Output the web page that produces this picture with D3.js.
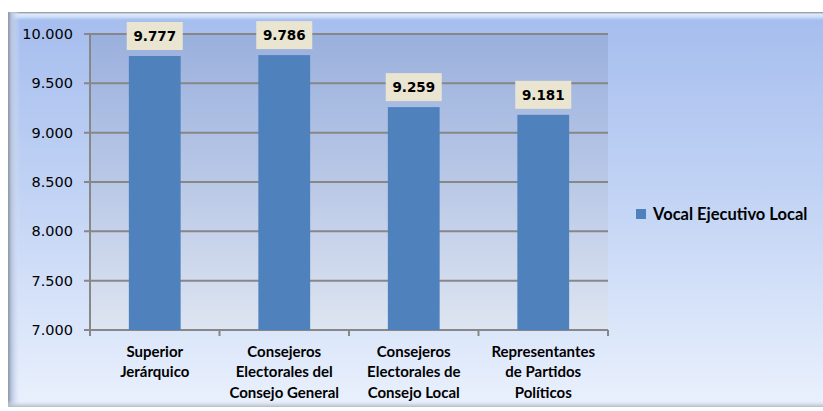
<!DOCTYPE html>
<html>
<head>
<meta charset="utf-8">
<script src="https://cdn.jsdelivr.net/npm/d3@7"></script>
<style>
  body { margin: 0; background: #ffffff; }
  svg { display: block; }
</style>
</head>
<body>
<div id="chart"></div>
<script>
// data
const categories = [
    ["Superior", "Jerárquico"],
    ["Consejeros", "Electorales del", "Consejo General"],
    ["Consejeros", "Electorales de", "Consejo Local"],
    ["Representantes", "de Partidos", "Políticos"]
];
const values = [9777, 9786, 9259, 9181];
const seriesName = "Vocal Ejecutivo Local";
const yTicks = [7000, 7500, 8000, 8500, 9000, 9500, 10000];

let width = 823,
    height = 411,
    plot = {left: 90, right: 608, top: 34, bottom: 330},
    barColor = "#4f81bd",
    gridColor = "#878787";

const fmt = d3.formatLocale({decimal: ",", thousands: ".", grouping: [3], currency: ["", ""]}).format(",.0f");

const svg = d3.select("#chart").append("svg")
    .attr("width", width)
    .attr("height", height);

const defs = svg.append("defs");

function vGrad(id, stops) {
    const g = defs.append("linearGradient").attr("id", id)
        .attr("x1", 0).attr("y1", 0).attr("x2", 0).attr("y2", 1);
    stops.forEach(s => g.append("stop").attr("offset", s[0]).attr("stop-color", s[1]));
}
function hGrad(id, stops) {
    const g = defs.append("linearGradient").attr("id", id)
        .attr("x1", 0).attr("y1", 0).attr("x2", 1).attr("y2", 0);
    stops.forEach(s => g.append("stop").attr("offset", s[0]).attr("stop-color", s[1]));
}

vGrad("frameFill", [[0, "#a5bdee"], [0.5, "#c4d5f5"], [1, "#eaf1fd"]]);
vGrad("plotFill", [[0, "#9ab0dd"], [0.5, "#b9c8e6"], [1, "#dee5f1"]]);
hGrad("leftBevel", [[0, "#8e96a4"], [0.3, "#b8c6df"], [1, "rgba(220,230,250,0)"]]);
vGrad("topBevel", [[0, "#8a8f98"], [0.25, "#dfeafc"], [0.6, "#c9dbf8"], [1, "rgba(170,195,240,0)"]]);
vGrad("bottomBevel", [[0, "rgba(230,236,246,0)"], [1, "#b4bcc8"]]);

// frame
svg.append("rect")
    .attr("x", 8).attr("y", 12)
    .attr("width", width - 8).attr("height", 395)
    .attr("fill", "url(#frameFill)");
svg.append("rect")
    .attr("x", 8).attr("y", 12)
    .attr("width", width - 8).attr("height", 9)
    .attr("fill", "url(#topBevel)");
svg.append("rect")
    .attr("x", 8).attr("y", 12)
    .attr("width", 12).attr("height", 395)
    .attr("fill", "url(#leftBevel)");
svg.append("rect")
    .attr("x", 8).attr("y", 400)
    .attr("width", width - 8).attr("height", 7)
    .attr("fill", "url(#bottomBevel)");

// scales
const x = d3.scaleBand()
    .domain(d3.range(categories.length))
    .range([plot.left, plot.right])
    .paddingInner(0.6)
    .paddingOuter(0.3);

const y = d3.scaleLinear()
    .domain([7000, 10000])
    .range([plot.bottom, plot.top]);

// plot area
svg.append("rect")
    .attr("x", plot.left).attr("y", plot.top)
    .attr("width", plot.right - plot.left).attr("height", plot.bottom - plot.top)
    .attr("fill", "url(#plotFill)");

// gridlines
svg.append("g")
    .selectAll("line")
    .data(yTicks)
    .enter().append("line")
    .attr("x1", plot.left - 6).attr("x2", plot.right)
    .attr("y1", d => y(d)).attr("y2", d => y(d))
    .attr("stroke", gridColor)
    .attr("stroke-width", 2);

// y axis line
svg.append("line")
    .attr("x1", plot.left).attr("x2", plot.left)
    .attr("y1", plot.top).attr("y2", plot.bottom)
    .attr("stroke", gridColor).attr("stroke-width", 2);

// x tick marks at band boundaries
const step = x.step();
const xBounds = d3.range(categories.length + 1).map(i => plot.left + i * step);
svg.append("g")
    .selectAll("line")
    .data(xBounds)
    .enter().append("line")
    .attr("x1", d => d).attr("x2", d => d)
    .attr("y1", plot.bottom).attr("y2", plot.bottom + 6)
    .attr("stroke", gridColor).attr("stroke-width", 2);

// y labels
svg.append("g")
    .selectAll("text")
    .data(yTicks)
    .enter().append("text")
    .attr("x", 73)
    .attr("y", d => y(d) + 5)
    .attr("text-anchor", "end")
    .style("font-family", "DejaVu Sans, Verdana, sans-serif")
    .style("font-size", "14.5px")
    .style("fill", "#000")
    .text(d => fmt(d));

// bars
svg.append("g")
    .selectAll("rect")
    .data(values)
    .enter().append("rect")
    .attr("x", (d, i) => x(i))
    .attr("y", d => y(d))
    .attr("width", x.bandwidth())
    .attr("height", d => plot.bottom - y(d))
    .attr("fill", barColor);

// value labels
const lab = svg.append("g")
    .selectAll("g")
    .data(values)
    .enter().append("g")
    .attr("transform", (d, i) => `translate(${x(i) + x.bandwidth() / 2},${y(d) - 6})`);

lab.append("rect")
    .attr("x", -28).attr("y", -28)
    .attr("width", 56).attr("height", 28)
    .attr("fill", "#e9e5d1");

lab.append("text")
    .attr("y", -9)
    .attr("text-anchor", "middle")
    .style("font-family", "DejaVu Sans, Verdana, sans-serif")
    .style("font-weight", "bold")
    .style("font-size", "13.5px")
    .style("fill", "#000")
    .text(d => fmt(d));

// category labels
const cat = svg.append("g")
    .selectAll("text")
    .data(categories)
    .enter().append("text")
    .attr("text-anchor", "middle")
    .style("font-family", "Lato, sans-serif")
    .style("font-weight", "bold")
    .style("font-size", "15px")
    .style("fill", "#000");

cat.selectAll("tspan")
    .data((d, i) => d.map(t => ({t: t, i: i})))
    .enter().append("tspan")
    .attr("x", d => x(d.i) + x.bandwidth() / 2)
    .attr("y", (d, j) => 357 + j * 20.3)
    .text(d => d.t);

// legend
svg.append("rect")
    .attr("x", 636).attr("y", 209)
    .attr("width", 10).attr("height", 10)
    .attr("fill", barColor);
svg.append("text")
    .attr("x", 653).attr("y", 219.5)
    .style("font-family", "Lato, sans-serif")
    .style("font-weight", "bold")
    .style("font-size", "16.5px")
    .style("fill", "#000")
    .text(seriesName);
</script>
</body>
</html>
